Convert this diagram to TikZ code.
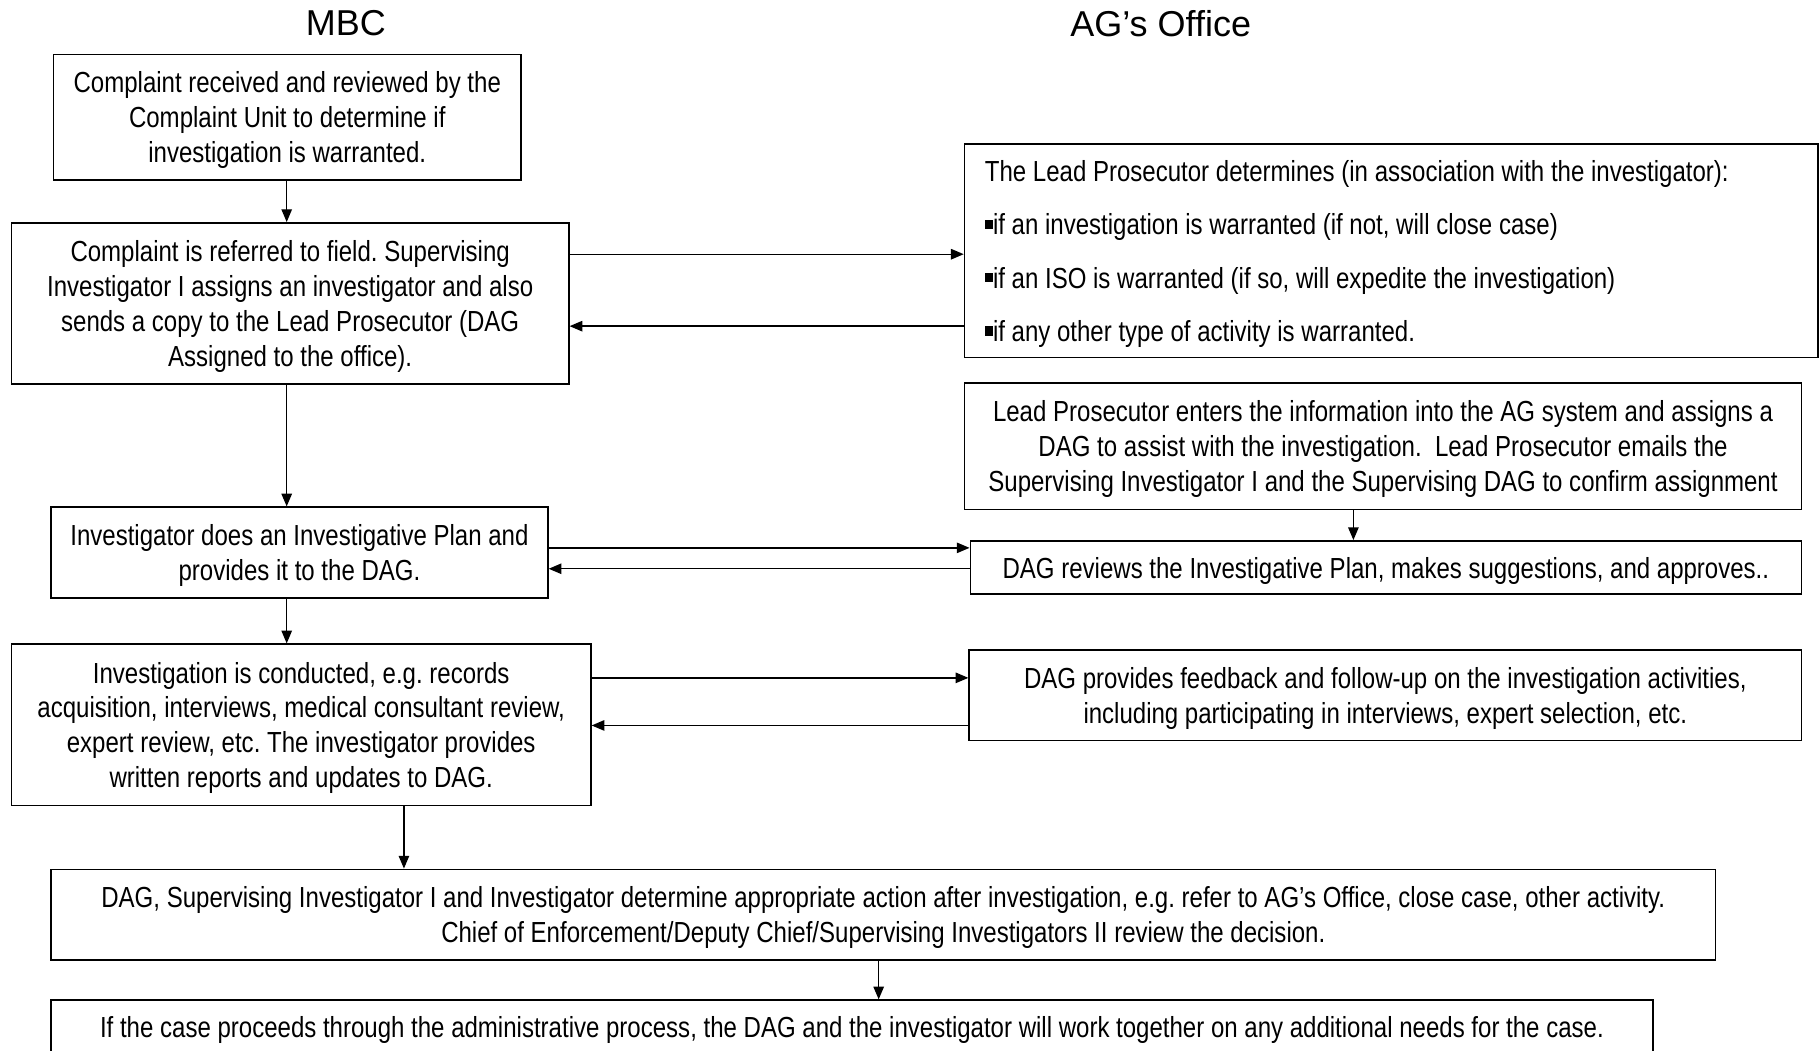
\documentclass[tikz,border=0pt]{standalone}
\usepackage{fontspec}
\setmainfont{Liberation Sans}
\newfontfamily\narrowfont{Liberation Sans}[FakeStretch=0.828]
\usetikzlibrary{arrows.meta}
\frenchspacing
\tikzset{
  box/.style={draw, line width=1.4pt, inner sep=0pt, align=center, text depth=0pt,
    font=\narrowfont\fontsize{25}{30}\selectfont},
  conn/.style={line width=1.2pt, -{Triangle[length=11pt,width=9pt]}},
  title/.style={font=\fontsize{31}{36}\selectfont}
}
\newcommand{\sqbullet}{\raisebox{0.2em}{\rule{0.28em}{0.32em}}}
\begin{document}
\begin{tikzpicture}[x=1pt,y=-1pt]
\useasboundingbox (0,0) rectangle (1568,905);
\clip (0,0) rectangle (1568,905);
\node[title] (tmbc) at (298,20) {MBC};
\node[title] (tag) at (1000,20) {AG’s Office};

\node[box, minimum width=403pt, minimum height=108pt] (b1) at (247.5,101)
  {Complaint received and reviewed by the\\Complaint Unit to determine if\\investigation is warranted.};
\node[box, minimum width=480pt, minimum height=139pt] (b2) at (250,261.5)
  {Complaint is referred to field. Supervising\\Investigator I assigns an investigator and also\\sends a copy to the Lead Prosecutor (DAG\\Assigned to the office).};
\node[box, minimum width=735pt, minimum height=184pt, align=flush left, text width=700pt,
  text height=18.3pt, text depth=138pt,
  font=\narrowfont\fontsize{25}{46}\selectfont] (b3) at (1198.5,216)
  {The Lead Prosecutor determines (in association with the investigator):\\
   \sqbullet if an investigation is warranted (if not, will close case)\\
   \sqbullet if an ISO is warranted (if so, will expedite the investigation)\\
   \sqbullet if any other type of activity is warranted.};
\node[box, minimum width=721pt, minimum height=109pt] (b4) at (1191.5,384.5)
  {Lead Prosecutor enters the information into the AG system and assigns a\\DAG to assist with the investigation.\ \ Lead Prosecutor emails the\\Supervising Investigator I and the Supervising DAG to confirm assignment};
\node[box, minimum width=716pt, minimum height=46pt] (b5) at (1194,489)
  {DAG reviews the Investigative Plan, makes suggestions, and approves..};
\node[box, minimum width=428pt, minimum height=78pt] (b6) at (258,476)
  {Investigator does an Investigative Plan and\\provides it to the DAG.};
\node[box, minimum width=499pt, minimum height=139pt] (b7) at (259.5,624.5)
  {Investigation is conducted, e.g. records\\acquisition, interviews, medical consultant review,\\expert review, etc. The investigator provides\\written reports and updates to DAG.};
\node[box, minimum width=717pt, minimum height=78pt] (b8) at (1193.5,599)
  {DAG provides feedback and follow-up on the investigation activities,\\including participating in interviews, expert selection, etc.};
\node[box, minimum width=1434pt, minimum height=78pt] (b9) at (761,788)
  {DAG, Supervising Investigator I and Investigator determine appropriate action after investigation, e.g. refer to AG’s Office, close case, other activity.\\Chief of Enforcement/Deputy Chief/Supervising Investigators II review the decision.};
\node[box, anchor=north, minimum width=1380pt, inner ysep=6pt, text height=26pt, text depth=40pt] (b10) at (734,861)
  {If the case proceeds through the administrative process, the DAG and the investigator will work together on any additional needs for the case.};

\coordinate (cl) at (247,0);
\coordinate (cm) at (348,0);
\coordinate (cb) at (757,0);
\coordinate (cr) at (1166,0);
\coordinate (r1) at (0,219);
\coordinate (r2) at (0,281);
\coordinate (r3) at (0,472);
\coordinate (r4) at (0,490);
\coordinate (r5) at (0,584);
\coordinate (r6) at (0,625);

\draw[conn] (cl |- b1.south) -- (cl |- b2.north);
\draw[conn] (cl |- b2.south) -- (cl |- b6.north);
\draw[conn] (cl |- b6.south) -- (cl |- b7.north);
\draw[conn] (cm |- b7.south) -- (cm |- b9.north);
\draw[conn] (cb |- b9.south) -- (cb |- b10.north);
\draw[conn] (cr |- b4.south) -- (cr |- b5.north);
\draw[conn] (b2.east |- r1) -- (b3.west |- r1);
\draw[conn] (b3.west |- r2) -- (b2.east |- r2);
\draw[conn] (b6.east |- r3) -- (b5.west |- r3);
\draw[conn] (b5.west |- r4) -- (b6.east |- r4);
\draw[conn] (b7.east |- r5) -- (b8.west |- r5);
\draw[conn] (b8.west |- r6) -- (b7.east |- r6);
\end{tikzpicture}
\end{document}
